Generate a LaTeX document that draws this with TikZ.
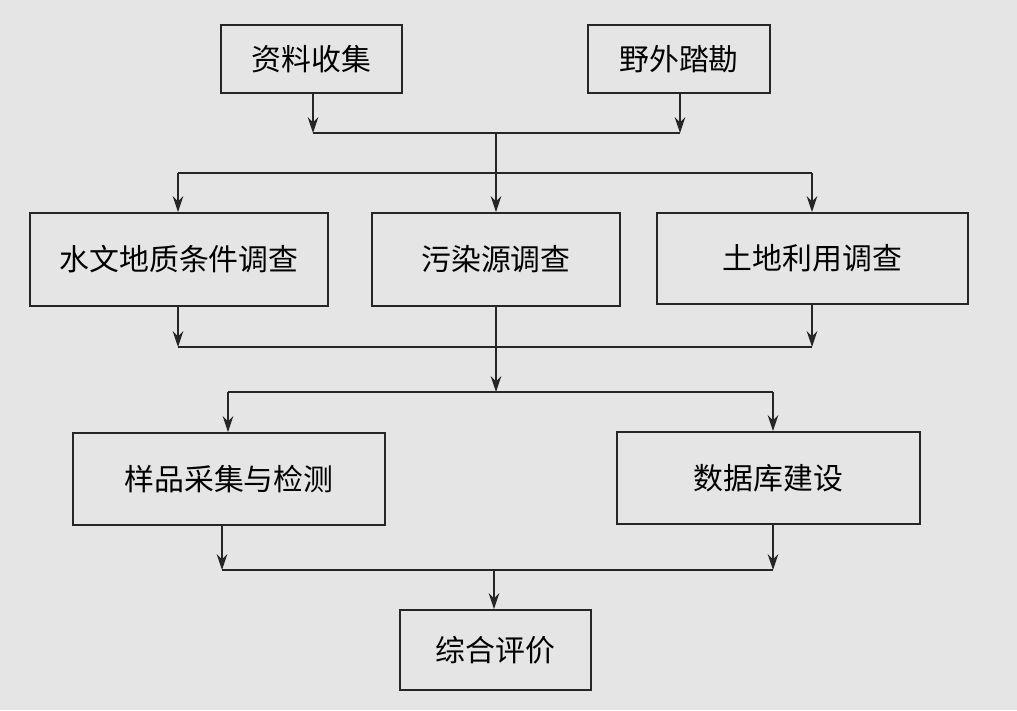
\documentclass[tikz,border=0pt]{standalone}
\usepackage{fontspec}
\newfontfamily\cjk{Noto Sans CJK SC}
\usetikzlibrary{arrows.meta}
\begin{document}
\begin{tikzpicture}[x=0.02cm,y=-0.02cm,
  box/.style={draw=black!85,line width=1.1pt,inner sep=0pt,font=\cjk\fontsize{17}{20}\selectfont},
  ln/.style={draw=black!85,line width=1.1pt},
  ar/.style={ln,-{Stealth[length=9pt,width=6pt]}}]
\fill[black!10] (0,0) rectangle (1017,710);
\useasboundingbox (0,0) rectangle (1017,710);
\newcommand\bx[6]{\node[box,minimum width=#4*0.02cm-#2*0.02cm,minimum height=#5*0.02cm-#3*0.02cm] (#1) at ({(#2+#4)/2},{(#3+#5)/2}) {#6};}
\bx{a}{221}{25}{402}{93}{资料收集}
\bx{b}{588}{25}{770}{93}{野外踏勘}
\bx{c}{30}{213}{328}{306}{水文地质条件调查}
\bx{d}{372}{213}{620}{306}{污染源调查}
\bx{e}{657}{213}{968}{304}{土地利用调查}
\bx{f}{73}{433}{385}{525}{样品采集与检测}
\bx{g}{617}{432}{920}{524}{数据库建设}
\bx{h}{400}{610}{591}{690}{综合评价}
\coordinate (j1l) at (313,133); \coordinate (j1r) at (680,133); \coordinate (j1) at (496,133);
\coordinate (j2) at (496,173); \coordinate (j2l) at (178,173); \coordinate (j2r) at (812,173);
\coordinate (j3l) at (178,347); \coordinate (j3r) at (812,347); \coordinate (j3) at (496,347);
\coordinate (j4) at (496,392); \coordinate (j4l) at (228,392); \coordinate (j4r) at (773,392);
\coordinate (j5l) at (222,570); \coordinate (j5r) at (773,570); \coordinate (j5) at (494,570);
\draw[ar] (a.south -| j1l) -- (j1l);
\draw[ar] (b.south -| j1r) -- (j1r);
\draw[ln] (j1l) -- (j1r);
\draw[ln] (j1) -- (j2);
\draw[ln] (j2l) -- (j2r);
\draw[ar] (j2l) -- (c.north -| j2l);
\draw[ar] (j2) -- (d.north);
\draw[ar] (j2r) -- (e.north -| j2r);
\draw[ar] (c.south -| j3l) -- (j3l);
\draw[ar] (e.south -| j3r) -- (j3r);
\draw[ln] (d.south) -- (j3);
\draw[ln] (j3l) -- (j3r);
\draw[ar] (j3) -- (j4);
\draw[ln] (j4l) -- (j4r);
\draw[ar] (j4l) -- (f.north -| j4l);
\draw[ar] (j4r) -- (g.north -| j4r);
\draw[ar] (f.south -| j5l) -- (j5l);
\draw[ar] (g.south -| j5r) -- (j5r);
\draw[ln] (j5l) -- (j5r);
\draw[ar] (j5) -- (h.north -| j5);
\end{tikzpicture}
\end{document}
